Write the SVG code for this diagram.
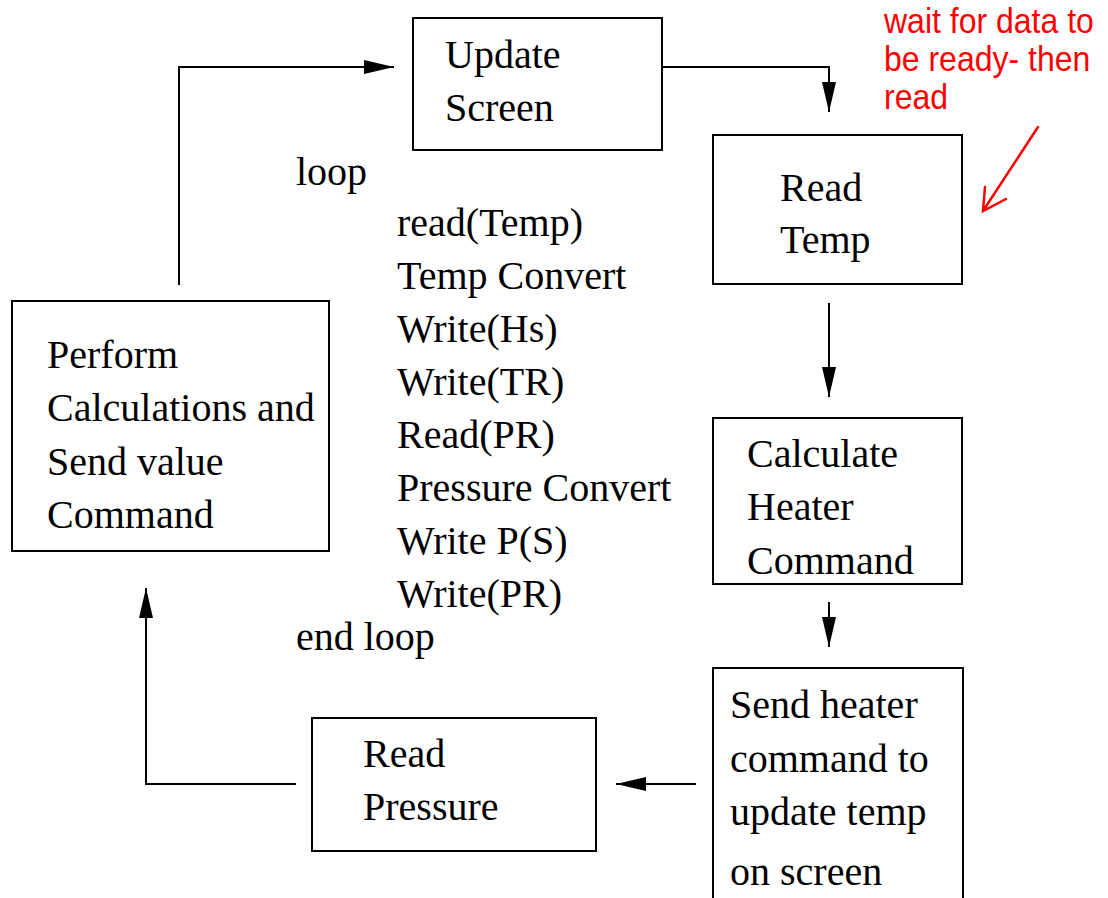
<svg xmlns="http://www.w3.org/2000/svg" width="1108" height="898" viewBox="0 0 1108 898">
  <style>
    .box { fill: #ffffff; stroke: #000000; stroke-width: 2; }
    .lbl { font-family: "Liberation Serif", "Times New Roman", serif; font-size: 40px; fill: #000000; }
    .link { fill: none; stroke: #000000; stroke-width: 2; }
    .note { font-family: "Liberation Sans", Arial, sans-serif; font-size: 32px; fill: #ff0000; }
    .pointer { fill: none; stroke: #ff0000; stroke-width: 2.5; stroke-linecap: round; }
  </style>
  <defs>
    <marker id="head" viewBox="0 0 30 14" refX="30" refY="7" markerWidth="30" markerHeight="14" markerUnits="userSpaceOnUse" orient="auto">
      <path d="M0,0 L30,7 L0,14 Z" fill="#000000"/>
    </marker>
  </defs>
  <rect width="1108" height="898" fill="#ffffff"/>

  <!-- flow connectors -->
  <g id="connectors">
    <path class="link" d="M663,67 H829 V112" marker-end="url(#head)"/>
    <path class="link" d="M829,303 V397" marker-end="url(#head)"/>
    <path class="link" d="M829,602 V647" marker-end="url(#head)"/>
    <path class="link" d="M696,784 H616" marker-end="url(#head)"/>
    <path class="link" d="M296,784 H146 V588" marker-end="url(#head)"/>
    <path class="link" d="M179,285 V67 H394" marker-end="url(#head)"/>
  </g>

  <g id="update-screen">
    <rect class="box" x="413" y="18" width="249" height="132"/>
    <text class="lbl" x="445" y="68">Update</text>
    <text class="lbl" x="445" y="121">Screen</text>
  </g>

  <g id="read-temp">
    <rect class="box" x="713" y="135" width="249" height="149"/>
    <text class="lbl" x="780" y="201">Read</text>
    <text class="lbl" x="780" y="253">Temp</text>
  </g>

  <g id="calculate-heater">
    <rect class="box" x="713" y="418" width="249" height="166"/>
    <text class="lbl" x="747" y="467">Calculate</text>
    <text class="lbl" x="747" y="520">Heater</text>
    <text class="lbl" x="747" y="574">Command</text>
  </g>

  <g id="send-heater">
    <rect class="box" x="713" y="668" width="250" height="240"/>
    <text class="lbl" x="730" y="718">Send heater</text>
    <text class="lbl" x="730" y="772">command to</text>
    <text class="lbl" x="730" y="825">update temp</text>
    <text class="lbl" x="730" y="885">on screen</text>
  </g>

  <g id="read-pressure">
    <rect class="box" x="312" y="718" width="284" height="133"/>
    <text class="lbl" x="363" y="767">Read</text>
    <text class="lbl" x="363" y="820">Pressure</text>
  </g>

  <g id="perform-calculations">
    <rect class="box" x="12" y="301" width="317" height="250"/>
    <text class="lbl" x="47" y="368">Perform</text>
    <text class="lbl" x="47" y="421">Calculations and</text>
    <text class="lbl" x="47" y="475">Send value</text>
    <text class="lbl" x="47" y="528">Command</text>
  </g>

  <!-- loop pseudocode -->
  <g id="loop-code">
    <text class="lbl" x="296" y="185">loop</text>
    <text class="lbl" x="397" y="236">read(Temp)</text>
    <text class="lbl" x="397" y="289">Temp Convert</text>
    <text class="lbl" x="397" y="342">Write(Hs)</text>
    <text class="lbl" x="397" y="395">Write(TR)</text>
    <text class="lbl" x="397" y="448">Read(PR)</text>
    <text class="lbl" x="397" y="501">Pressure Convert</text>
    <text class="lbl" x="397" y="554">Write P(S)</text>
    <text class="lbl" x="397" y="607">Write(PR)</text>
    <text class="lbl" x="296" y="650">end loop</text>
  </g>

  <!-- red annotation: lettering is slightly taller than wide -->
  <g id="annotation">
    <g transform="scale(1,1.12)">
      <text class="note" x="884" y="29.5">wait for data to</text>
      <text class="note" x="884" y="63.5">be ready- then</text>
      <text class="note" x="884" y="97">read</text>
    </g>
    <path class="pointer" d="M1038,127 L983,211 M985,187 L983,211 L1006,199"/>
  </g>
</svg>
